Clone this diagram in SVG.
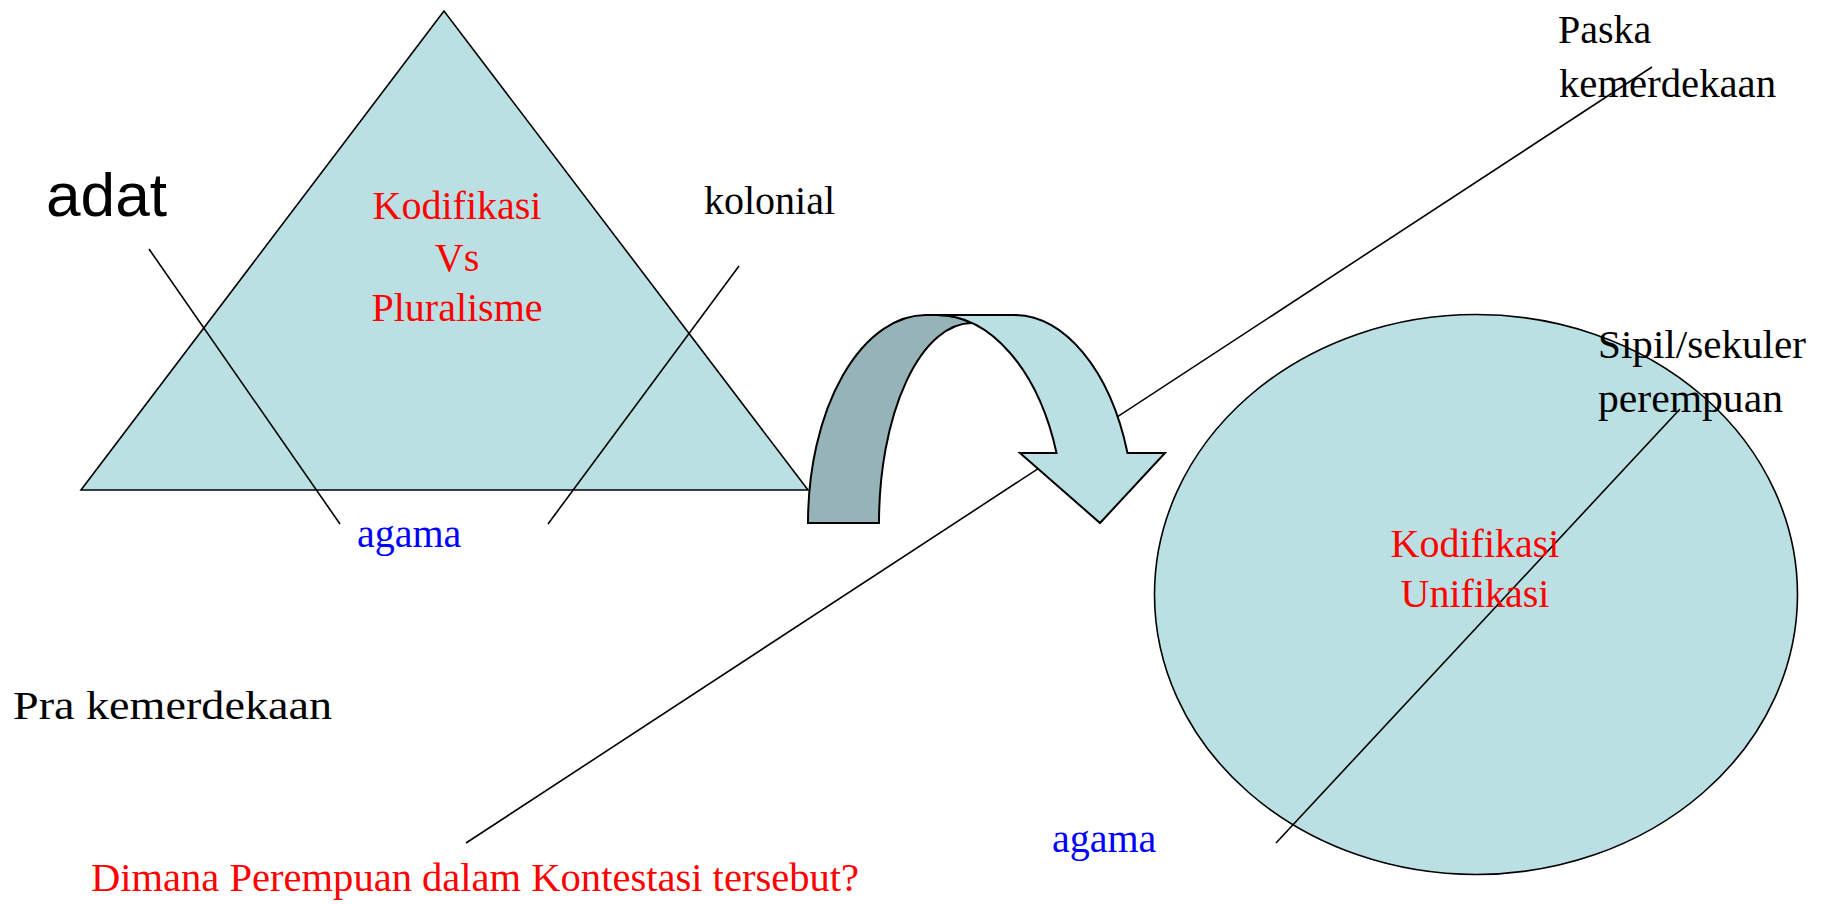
<svg xmlns="http://www.w3.org/2000/svg" width="1825" height="904" viewBox="0 0 1825 904">
  <style>
    .shape { fill: #bbe0e3; stroke: #000; stroke-width: 1.6; }
    .dark { fill: #96b3b7; stroke: #000; stroke-width: 2; stroke-linejoin: miter; }
    .light { fill: #bbe0e3; stroke: #000; stroke-width: 2; stroke-linejoin: miter; }
    .ln { stroke: #000; stroke-width: 1.6; fill: none; }
    .serif { font-family: "Liberation Serif", "Times New Roman", serif; font-size: 40px; }
    .sans { font-family: "Liberation Sans", Arial, sans-serif; }
    .red { fill: #ff0000; }
    .blue { fill: #0000ff; }
    .black { fill: #000; }
  </style>
  <rect width="1825" height="904" fill="#ffffff"/>

  <g id="connectors-back">
    <line class="ln" x1="1652" y1="67" x2="466" y2="843"/>
  </g>

  <g id="triangle">
    <polygon class="shape" points="444,11 81,490 808,490"/>
  </g>

  <g id="ellipse">
    <ellipse class="shape" cx="1476" cy="594.5" rx="321.5" ry="280"/>
  </g>

  <g id="arrow">
    <path class="dark" d="M 808,523 A 118 208 0 0 1 927,315 L 937,315 A 127 208 0 0 1 972,323 A 93 200 0 0 0 879,523 Z"/>
    <path class="light" d="M 937,315 L 1013,315 A 121 208 0 0 1 1127.5,453 L 1165,453 L 1100,523 L 1020,453 L 1056.5,453 A 127 208 0 0 0 937,315 Z"/>
  </g>

  <g id="connectors">
    <line class="ln" x1="149" y1="249" x2="340" y2="524"/>
    <line class="ln" x1="739" y1="266" x2="548" y2="524"/>
    <line class="ln" x1="1680" y1="409" x2="1276" y2="843"/>
  </g>

  <g id="label-adat">
    <text class="sans black" x="46" y="216" font-size="61" textLength="121" lengthAdjust="spacingAndGlyphs">adat</text>
  </g>
  <g id="label-triangle-center">
    <text class="serif red" text-anchor="middle" x="457" y="219">Kodifikasi</text>
    <text class="serif red" text-anchor="middle" x="457" y="271">Vs</text>
    <text class="serif red" text-anchor="middle" x="457" y="321">Pluralisme</text>
  </g>
  <g id="label-kolonial">
    <text class="serif black" x="704" y="214">kolonial</text>
  </g>
  <g id="label-agama-1">
    <text class="serif blue" x="357" y="547" font-size="39">agama</text>
  </g>
  <g id="label-pra">
    <text class="serif black" x="13" y="719" font-size="43" textLength="319" lengthAdjust="spacingAndGlyphs">Pra kemerdekaan</text>
  </g>
  <g id="label-question">
    <text class="serif red" x="91" y="891" font-size="42" textLength="768" lengthAdjust="spacingAndGlyphs">Dimana Perempuan dalam Kontestasi tersebut?</text>
  </g>
  <g id="label-agama-2">
    <text class="serif blue" x="1052" y="852" font-size="38">agama</text>
  </g>
  <g id="label-paska">
    <text class="serif black" x="1558" y="43">Paska</text>
    <text class="serif black" x="1559" y="97" textLength="217" lengthAdjust="spacingAndGlyphs">kemerdekaan</text>
  </g>
  <g id="label-sipil">
    <text class="serif black" x="1598" y="358" font-size="41" textLength="208" lengthAdjust="spacingAndGlyphs">Sipil/sekuler</text>
    <text class="serif black" x="1598" y="412" font-size="41" textLength="185" lengthAdjust="spacingAndGlyphs">perempuan</text>
  </g>
  <g id="label-ellipse-center">
    <text class="serif red" text-anchor="middle" x="1475" y="557">Kodifikasi</text>
    <text class="serif red" text-anchor="middle" x="1475" y="607">Unifikasi</text>
  </g>
</svg>
